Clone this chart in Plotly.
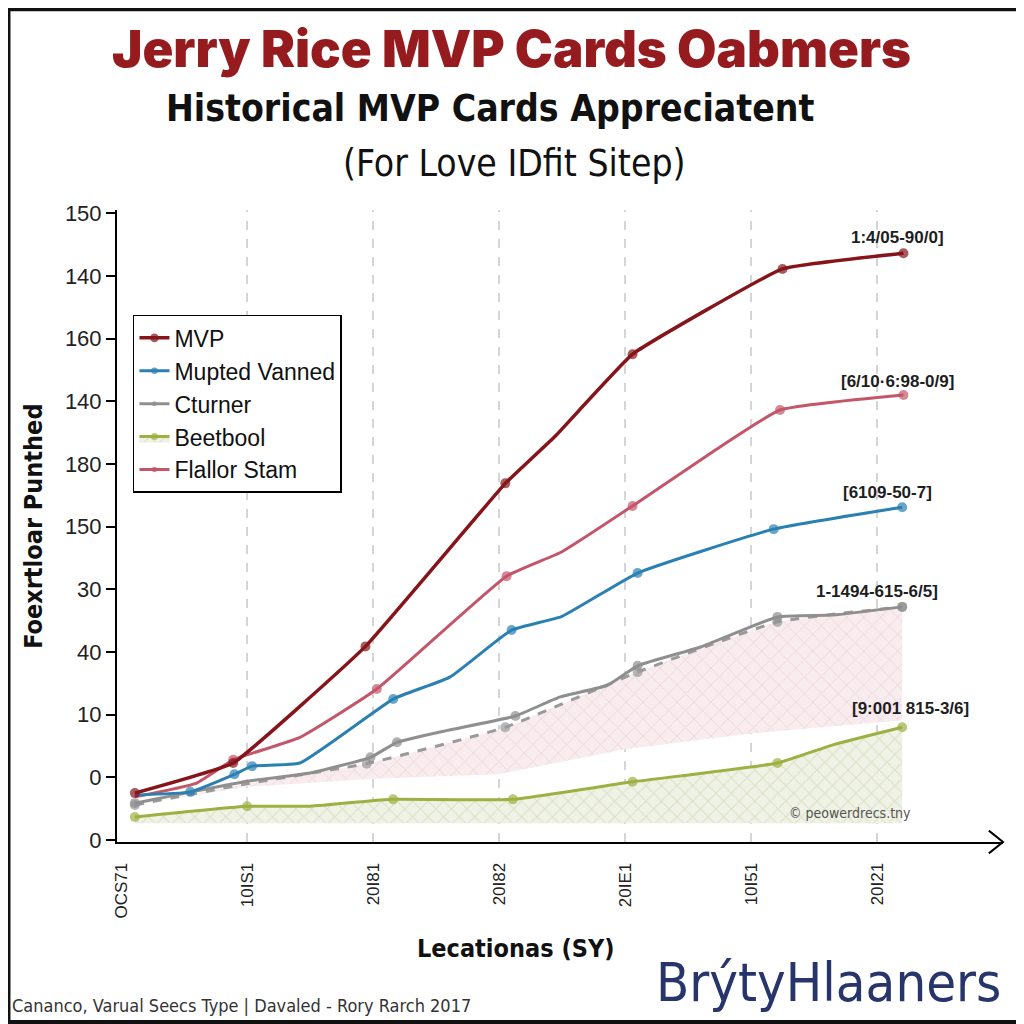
import plotly.graph_objects as go

# ---- data ----
x_tick_labels = ["OCS71", "10IS1", "20I81", "20I82", "20IE1", "10I51", "20I21"]
y_tick_labels = ["0", "0", "10", "40", "30", "150", "180", "140", "160", "140", "150"]

mvp_x = [0.11, 0.89, 1.94, 3.05, 3.45, 4.06, 5.25, 6.21]
mvp_y = [0.75, 1.23, 3.09, 5.69, 6.45, 7.75, 9.11, 9.36]
mvp_marked = [0, 1, 2, 3, 5, 6, 7]

flallor_x = [0.11, 0.60, 0.89, 1.42, 2.03, 3.06, 3.50, 4.06, 4.70, 5.23, 6.21]
flallor_y = [0.69, 0.91, 1.28, 1.64, 2.41, 4.21, 4.60, 5.33, 6.20, 6.86, 7.10]
flallor_marked = [2, 4, 5, 7, 9, 10]

mupted_x = [0.11, 0.55, 0.90, 1.04, 1.42, 2.16, 2.61, 3.10, 3.50, 4.10, 5.18, 6.20]
mupted_y = [0.72, 0.77, 1.05, 1.18, 1.23, 2.25, 2.60, 3.35, 3.57, 4.26, 4.96, 5.31]
mupted_marked = [1, 2, 3, 5, 7, 9, 10, 11]

cturner_x = [0.11, 1.00, 1.50, 1.98, 2.19, 2.59, 3.13, 3.48, 3.86, 4.10, 4.60, 5.21, 5.65, 6.20]
cturner_y = [0.59, 0.94, 1.07, 1.32, 1.56, 1.75, 1.98, 2.28, 2.47, 2.78, 3.08, 3.56, 3.59, 3.72]
cturner_marked = [0, 3, 4, 6, 9, 11, 13]

trend_x = [0.11, 1.00, 1.95, 3.05, 4.10, 5.21, 6.20]
trend_y = [0.56, 0.90, 1.22, 1.80, 2.68, 3.48, 3.72]
trend_marked = [0, 2, 3, 4, 5, 6]

band_x = [0.11, 1.00, 2.00, 3.00, 4.00, 5.00, 6.20]
band_low = [0.56, 0.85, 0.98, 1.05, 1.45, 1.70, 1.91]

beetbool_x = [0.11, 1.00, 1.50, 1.95, 2.16, 3.11, 4.06, 5.21, 5.65, 6.20]
beetbool_y = [0.37, 0.54, 0.54, 0.62, 0.65, 0.65, 0.93, 1.23, 1.52, 1.80]
beetbool_marked = [0, 1, 4, 5, 6, 7, 9]
beetbool_floor = 0.27

end_labels = ["1:4/05-90/0]", "[6/10·6:98-0/9]", "[6109-50-7]", "1-1494-615-6/5]", "[9:001 815-3/6]"]

# ---- colours ----
C_MVP = "#86151B"
C_FLA = "#C4566A"
C_MUP = "#2B80B2"
C_CTU = "#8F8F8F"
C_BEE = "#9DB042"

NARROW = "DejaVu Sans Condensed, Roboto, sans-serif"
SANS = "Liberation Sans, Arial, sans-serif"


def sizes(n, marked, s=10):
    return [s if i in marked else 0 for i in range(n)]


fig = go.Figure()

# pink hatched band under the grey trend
fig.add_trace(go.Scatter(x=band_x, y=band_low, mode="lines", line=dict(width=0),
                         showlegend=False, hoverinfo="skip"))
fig.add_trace(go.Scatter(
    x=trend_x, y=trend_y, mode="lines+markers", showlegend=False,
    line=dict(color="#9A9A9A", width=3, dash="dash", shape="spline", smoothing=0.4),
    marker=dict(size=sizes(len(trend_x), trend_marked), color="#9A9A9A", line=dict(width=0)),
    fill="tonexty", fillcolor="rgba(240,215,222,0.7)",
    fillpattern=dict(shape="x", fgcolor="#E6C2CB", bgcolor="#F8ECEF", size=12, solidity=0.15),
))

# green hatched area
fig.add_trace(go.Scatter(x=beetbool_x, y=[beetbool_floor] * len(beetbool_x), mode="lines",
                         line=dict(width=0), showlegend=False, hoverinfo="skip"))
fig.add_trace(go.Scatter(
    x=beetbool_x, y=beetbool_y, name="Beetbool", legendrank=4, mode="lines+markers",
    line=dict(color=C_BEE, width=3, shape="spline", smoothing=0.4),
    marker=dict(size=sizes(len(beetbool_x), beetbool_marked), color=C_BEE, line=dict(width=0)),
    fill="tonexty", fillcolor="rgba(225,232,205,0.7)",
    fillpattern=dict(shape="x", fgcolor="#C6D0A8", bgcolor="#EFF2E5", size=11, solidity=0.18),
))

fig.add_trace(go.Scatter(
    x=cturner_x, y=cturner_y, name="Cturner", legendrank=3, mode="lines+markers",
    line=dict(color=C_CTU, width=3, shape="spline", smoothing=0.4),
    marker=dict(size=sizes(len(cturner_x), cturner_marked), color=C_CTU, line=dict(width=0)),
))
fig.add_trace(go.Scatter(
    x=flallor_x, y=flallor_y, name="Flallor Stam", legendrank=5, mode="lines+markers",
    line=dict(color=C_FLA, width=3, shape="spline", smoothing=0.4),
    marker=dict(size=sizes(len(flallor_x), flallor_marked), color=C_FLA, line=dict(width=0)),
))
fig.add_trace(go.Scatter(
    x=mupted_x, y=mupted_y, name="Mupted Vanned", legendrank=2, mode="lines+markers",
    line=dict(color=C_MUP, width=3, shape="spline", smoothing=0.4),
    marker=dict(size=sizes(len(mupted_x), mupted_marked), color=C_MUP, line=dict(width=0)),
))
fig.add_trace(go.Scatter(
    x=mvp_x, y=mvp_y, name="MVP", legendrank=1, mode="lines+markers",
    line=dict(color=C_MVP, width=3.5, shape="spline", smoothing=0.3),
    marker=dict(size=sizes(len(mvp_x), mvp_marked), color=C_MVP, line=dict(width=0)),
))

# end-of-line labels
ends = [(mvp_x, mvp_y), (flallor_x, flallor_y), (mupted_x, mupted_y),
        (cturner_x, cturner_y), (beetbool_x, beetbool_y)]
shifts = [(-6, 16), (-6, 13), (-15, 15), (-25, 15), (8, 19)]
for (xs, ys), txt, (dx, dy) in zip(ends, end_labels, shifts):
    fig.add_annotation(x=xs[-1], y=ys[-1], text="<b>" + txt + "</b>", showarrow=False,
                       xshift=dx, yshift=dy,
                       font=dict(family=SANS, size=17, color="#1E1E1E"))

# dashed vertical grid
for t in range(1, len(x_tick_labels)):
    fig.add_shape(type="line", x0=t, x1=t, xref="x", y0=0, y1=1, yref="paper",
                  line=dict(color="#C8C8C8", width=1.5, dash="dash"), layer="below")

# axis arrow head
fig.add_shape(type="path", xref="paper", yref="paper",
              path="M 0.984 0.018 L 1.0 0 L 0.984 -0.018",
              line=dict(color="black", width=2))

# outer frame
fig.add_shape(type="rect", xref="paper", yref="paper",
              x0=-0.1225, x1=1.0214, y0=-0.2848, y1=1.3175,
              line=dict(color="#111111", width=4))


def label(text, x, y, font, **kw):
    fig.add_annotation(text=text, xref="paper", yref="paper", x=x, y=y,
                       yanchor="middle", showarrow=False, font=font, **kw)


# titles and texts
label("Jerry Rice MVP Cards Oabmers", 0.445, 1.256,
      dict(family="Inter, sans-serif", size=51, weight=900, color="#961B1E"), xanchor="center")
label("<b>Historical MVP Cards Appreciatent</b>", 0.421, 1.161,
      dict(family=NARROW, size=37, color="#111111"), xanchor="center")
label("(For Love IDfit Sitep)", 0.449, 1.074,
      dict(family=NARROW, size=37, color="#111111"), xanchor="center")
label("<b>Foexrtloar Punthed</b>", -0.095, 0.50,
      dict(family=NARROW, size=25, color="#111111"), xanchor="center", textangle=-90)
label("<b>Lecationas (SY)</b>", 0.45, -0.168,
      dict(family=NARROW, size=25, color="#111111"), xanchor="center")
label("Cananco, Varual Seecs Type | Davaled - Rory Rarch 2017", -0.121, -0.258,
      dict(family=NARROW, size=18, color="#333333"), xanchor="left")
label("BrýtyHlaaners", 1.0, -0.223,
      dict(family=NARROW, size=54, color="#27356B"), xanchor="right")
label("© peowerdrecs.tny", 0.827, 0.046,
      dict(family=NARROW, size=14, color="#555555"), xanchor="center")

# page body has an 8px margin, so the figure is offset by 8px
fig.update_layout(
    width=1016, height=1016,
    margin=dict(l=109, r=21, t=202, b=182),
    paper_bgcolor="white", plot_bgcolor="white",
    showlegend=True,
    legend=dict(x=0.018, y=0.834, xanchor="left", yanchor="top", traceorder="normal",
                bgcolor="white", bordercolor="black", borderwidth=1.5,
                font=dict(family=SANS, size=23, color="#111111"),
                itemwidth=30, tracegroupgap=0),
    xaxis=dict(range=[-0.032, 7.0], tickvals=list(range(len(x_tick_labels))),
               ticktext=x_tick_labels, tickangle=-90, showgrid=False, zeroline=False,
               showline=True, linecolor="black", linewidth=2, ticks="",
               ticklabelstandoff=12,
               tickfont=dict(family=SANS, size=17, color="#222222")),
    yaxis=dict(range=[-0.03, 10.05], tickvals=list(range(len(y_tick_labels))),
               ticktext=y_tick_labels, showgrid=False, zeroline=False,
               showline=True, linecolor="black", linewidth=2,
               ticks="outside", ticklen=9, tickwidth=2, tickcolor="black",
               tickfont=dict(family=SANS, size=22, color="#222222")),
)

fig.write_html("out.html")
